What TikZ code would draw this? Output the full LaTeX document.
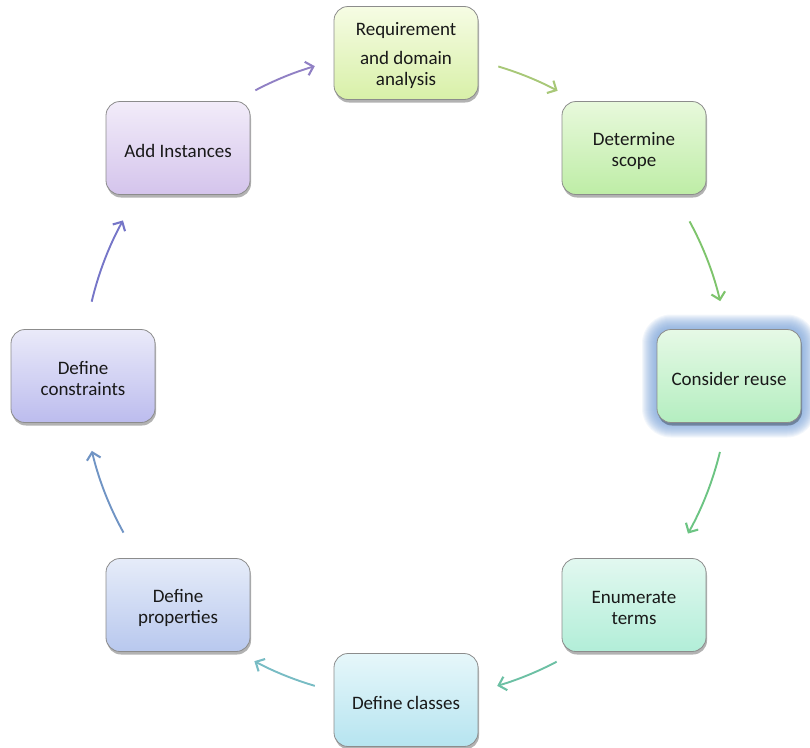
\documentclass[tikz,border=0pt]{standalone}
\usepackage{fontspec}
\setmainfont{Carlito}
\usetikzlibrary{arrows.meta,shadows,calc}
\definecolor{glowc}{HTML}{7BA3D8}
\definecolor{t1}{HTML}{F6FCE4}\definecolor{b1}{HTML}{D8F0A8}
\definecolor{t2}{HTML}{E8F9DC}\definecolor{b2}{HTML}{BEEDA6}
\definecolor{t3}{HTML}{E6F9E6}\definecolor{b3}{HTML}{B4EEC0}
\definecolor{t4}{HTML}{E2F8F0}\definecolor{b4}{HTML}{B2EED8}
\definecolor{t5}{HTML}{E6F7FA}\definecolor{b5}{HTML}{B6E4F0}
\definecolor{t6}{HTML}{E6ECF9}\definecolor{b6}{HTML}{B8C8EE}
\definecolor{t7}{HTML}{EAEAF9}\definecolor{b7}{HTML}{BCBCEE}
\definecolor{t8}{HTML}{F2ECF9}\definecolor{b8}{HTML}{D4C4EC}
\definecolor{a1}{HTML}{A8C878}
\definecolor{a2}{HTML}{7EC46C}
\definecolor{a3}{HTML}{6CC483}
\definecolor{a4}{HTML}{6CC0A4}
\definecolor{a5}{HTML}{78BCC4}
\definecolor{a6}{HTML}{7094C4}
\definecolor{a7}{HTML}{7676C8}
\definecolor{a8}{HTML}{9080C4}
\begin{document}
\begin{tikzpicture}[x=1pt,y=1pt,
  stepbox/.style={rounded corners=14pt, minimum width=144pt, minimum height=93pt,
    draw=black!45, line width=0.8pt, inner sep=0pt,
    drop shadow={shadow xshift=1pt, shadow yshift=-3pt, opacity=0.3, fill=black}},
  lbl/.style={align=center, inner sep=0pt, font=\fontsize{19}{21}\selectfont, text=black!90},
  arr/.style={line width=1.9pt, -{Straight Barb[length=7pt,width=14pt,line width=2.1pt]}}
]
\useasboundingbox (0,0) rectangle (810,-747);
\coordinate (c) at (406,-376);
% glow for Consider reuse
\coordinate (g) at (729,-376);
\foreach \i [evaluate=\i as \r using 14+\i] in {1,...,15}
  \fill[glowc, opacity=0.09, rounded corners=\r pt]
    ($(g)+(-72-\i,-46.5-\i)$) rectangle ($(g)+(72+\i,46.5+\i)$);
% boxes
\node[stepbox, top color=t1, bottom color=b1] (req) at (406,-53) {};
\node[stepbox, top color=t2, bottom color=b2] (scope) at (634,-148) {};
\node[stepbox, top color=t3, bottom color=b3] (reuse) at (g) {};
\node[stepbox, top color=t4, bottom color=b4] (enum) at (634,-605) {};
\node[stepbox, top color=t5, bottom color=b5] (classes) at (406,-700) {};
\node[stepbox, top color=t6, bottom color=b6] (props) at (178,-605) {};
\node[stepbox, top color=t7, bottom color=b7] (cons) at (83,-376) {};
\node[stepbox, top color=t8, bottom color=b8] (inst) at (178,-148) {};
% labels
\node[lbl] (req-t) at ($(req)+(0,-2.5)$) {Requirement\\[8pt]and domain\\analysis};
\node[lbl] (scope-t) at ($(scope)+(0,-2.5)$) {Determine\\scope};
\node[lbl] (reuse-t) at ($(reuse)+(0,-2.5)$) {Consider reuse};
\node[lbl] (enum-t) at ($(enum)+(0,-2.5)$) {Enumerate\\terms};
\node[lbl] (classes-t) at ($(classes)+(0,-2.5)$) {Define classes};
\node[lbl] (props-t) at ($(props)+(0,-2.5)$) {Define\\properties};
\node[lbl] (cons-t) at ($(cons)+(0,-2.5)$) {Define\\constraints};
\node[lbl] (inst-t) at ($(inst)+(0,-2.5)$) {Add Instances};
% arc start points
\coordinate (s1) at ($(c)+(73.4:323)$);
\coordinate (s2) at ($(c)+(28.6:323)$);
\coordinate (s3) at ($(c)+(-13.6:323)$);
\coordinate (s4) at ($(c)+(-62.2:323)$);
\coordinate (s5) at ($(c)+(-106.4:323)$);
\coordinate (s6) at ($(c)+(-151:323)$);
\coordinate (s7) at ($(c)+(166.7:323)$);
\coordinate (s8) at ($(c)+(117.8:323)$);
\draw[arr, a1] (s1) arc[start angle=73.4, end angle=62.0, radius=323];
\draw[arr, a2] (s2) arc[start angle=28.6, end angle=13.4, radius=323];
\draw[arr, a3] (s3) arc[start angle=-13.6, end angle=-29.2, radius=323];
\draw[arr, a4] (s4) arc[start angle=-62.2, end angle=-73.6, radius=323];
\draw[arr, a5] (s5) arc[start angle=-106.4, end angle=-118.0, radius=323];
\draw[arr, a6] (s6) arc[start angle=-151, end angle=-166.6, radius=323];
\draw[arr, a7] (s7) arc[start angle=166.7, end angle=151.2, radius=323];
\draw[arr, a8] (s8) arc[start angle=117.8, end angle=106.4, radius=323];
\end{tikzpicture}
\end{document}
